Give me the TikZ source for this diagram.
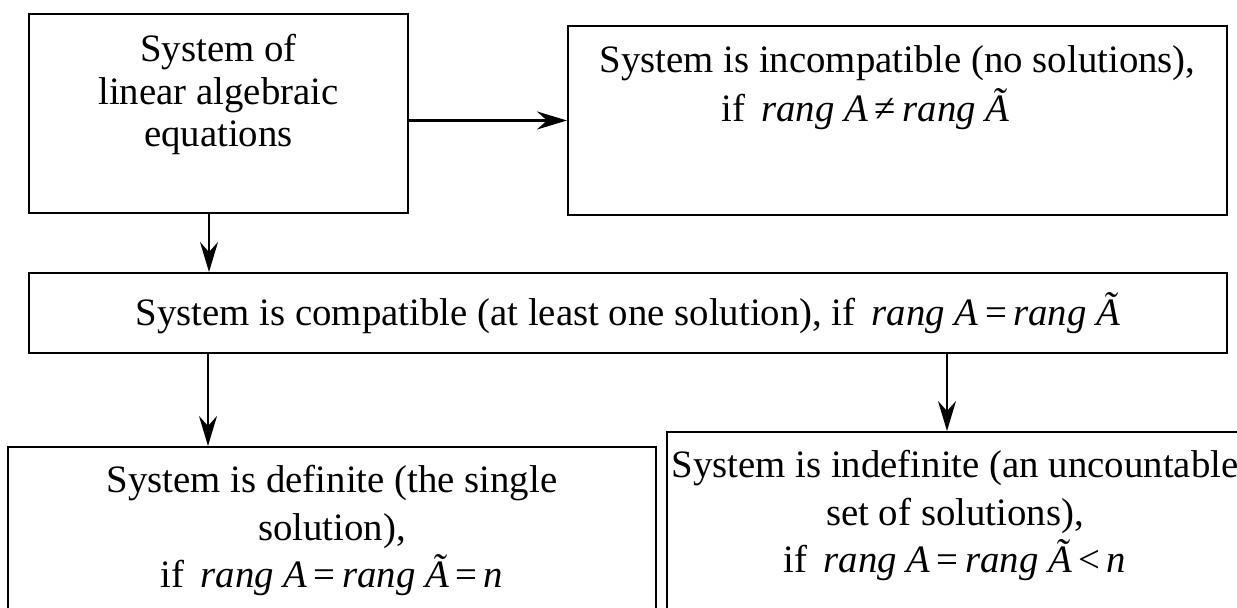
\documentclass[tikz,border=0pt]{standalone}
\usepackage{fontspec}
\setmainfont{Liberation Serif}
\usetikzlibrary{arrows.meta}
\newcommand{\rng}{\textit{rang}}
\tikzset{
  scheme/.style={x=0.5pt,y=-0.5pt},
  blk/.style={draw,line width=1pt,rectangle,inner sep=0pt},
  txt/.style={align=center,anchor=base,inner sep=0pt},
  arr/.style={line width=1pt,-{Stealth[length=15pt,width=9pt,inset=5pt]}},
}

\begin{document}
\begin{tikzpicture}[scheme]
  \useasboundingbox (0,0) rectangle (1237,608);
  \clip (0,0) rectangle (1237,608);
  % boxes
  \node[blk,minimum width=189.5pt,minimum height=99.5pt] (sys) at (218.5,113.5) {};
  \node[blk,minimum width=329.5pt,minimum height=94.5pt] (incomp) at (897.5,120.5) {};
  \node[blk,minimum width=599pt,minimum height=40pt,font=\fontsize{19.4}{24}\selectfont] (comp) at (628,313)
    {System is compatible (at least one solution), if\, \rng\ \textit{A}\,=\,\rng\ \textit{Ã}};
  \node[blk,minimum width=324pt,minimum height=101.5pt] (defin) at (332,548.5) {};
  \node[blk,minimum width=288pt,minimum height=109pt] (indef) at (955,541) {};
  % texts (anchored at the last line)
  \node[txt,font=\fontsize{19.4}{21.25}\selectfont] (tsys) at (218.5,147)
    {System of\\linear algebraic\\equations};
  \node[txt,font=\fontsize{19.4}{24.5}\selectfont] (tincomp) at (897.5,122)
    {System is incompatible (no solutions),\\if\, \rng\ \textit{A}\,≠\,\rng\ \textit{Ã}\hspace*{32pt}};
  \node[txt,font=\fontsize{19.4}{23.75}\selectfont] (tdefin) at (332,588)
    {System is definite (the single\\solution),\\if\, \rng\ \textit{A}\,=\,\rng\ \textit{Ã}\,=\,\textit{n}};
  \node[txt,font=\fontsize{19.4}{23.75}\selectfont] (tindef) at (955,573)
    {System is indefinite (an uncountable\\set of solutions),\\if\, \rng\ \textit{A}\,=\,\rng\ \textit{Ã}\,<\,\textit{n}};
  % arrows
  \draw[arr,line width=1.5pt] (sys.east |- incomp.west) -- (incomp.west);
  \draw[arr] ([xshift=-4.75pt]sys.south) -- ([xshift=-4.75pt]sys.south |- comp.north);
  \draw[arr] ([xshift=-62pt]defin.north |- comp.south) -- ([xshift=-62pt]defin.north);
  \draw[arr] ([xshift=-4pt]indef.north |- comp.south) -- ([xshift=-4pt]indef.north);
\end{tikzpicture}
\end{document}
